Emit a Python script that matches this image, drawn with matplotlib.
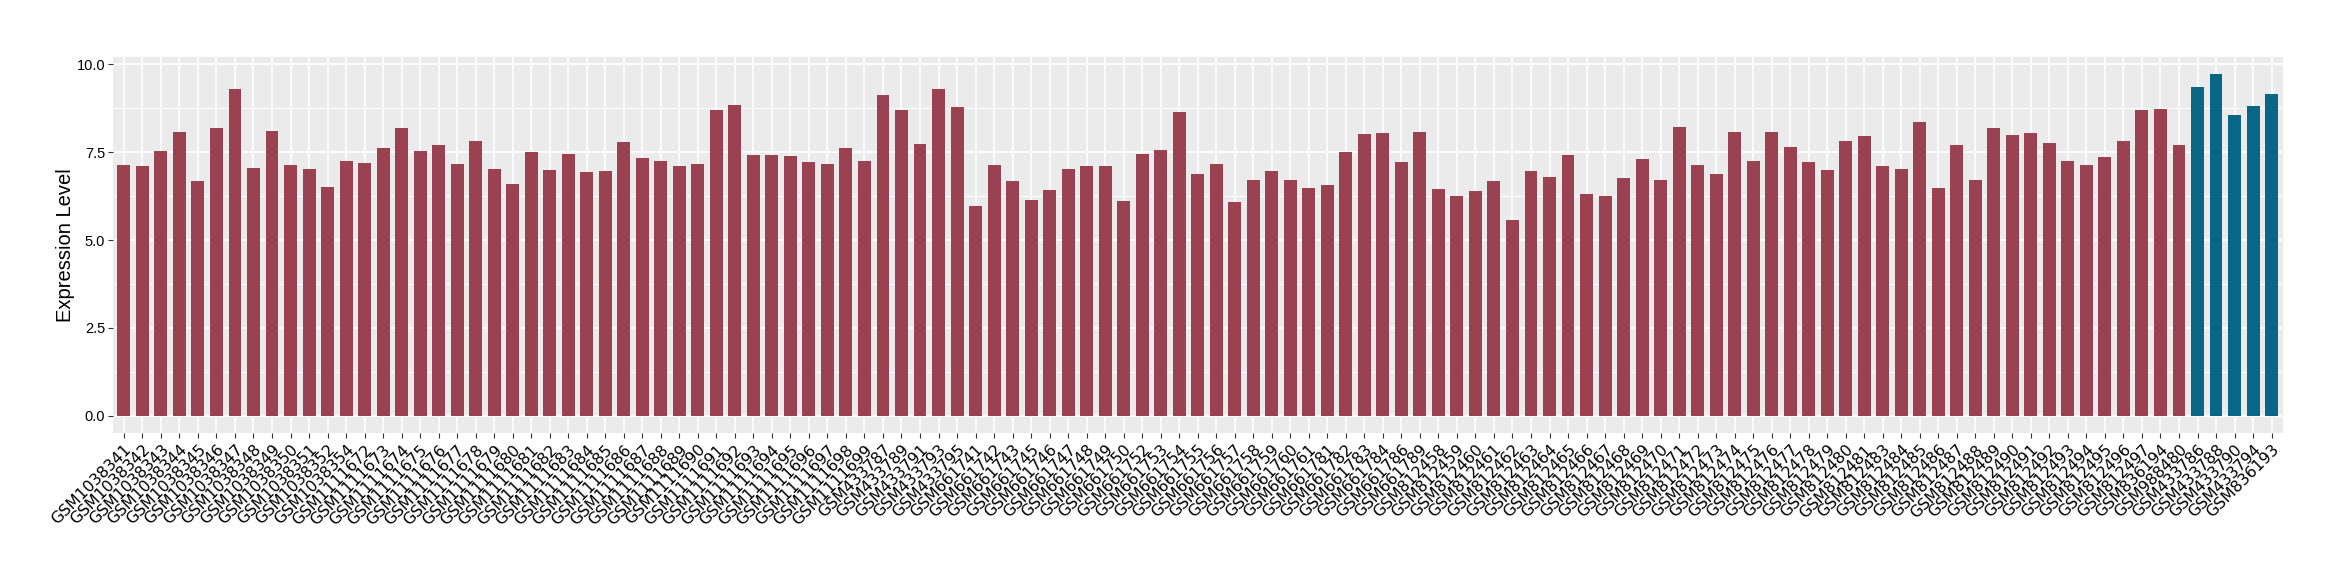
import matplotlib
matplotlib.use("Agg")
import matplotlib.pyplot as plt
from matplotlib.ticker import MultipleLocator

samples = [
    "GSM1038341", "GSM1038342", "GSM1038343", "GSM1038344", "GSM1038345", "GSM1038346",
    "GSM1038347", "GSM1038348", "GSM1038349", "GSM1038350", "GSM1038351", "GSM1038352",
    "GSM1038354",
    "GSM1111672", "GSM1111673", "GSM1111674", "GSM1111675", "GSM1111676", "GSM1111677",
    "GSM1111678", "GSM1111679", "GSM1111680", "GSM1111681", "GSM1111682", "GSM1111683",
    "GSM1111684", "GSM1111685", "GSM1111686", "GSM1111687", "GSM1111688", "GSM1111689",
    "GSM1111690", "GSM1111691", "GSM1111692", "GSM1111693", "GSM1111694", "GSM1111695",
    "GSM1111696", "GSM1111697", "GSM1111698", "GSM1111699",
    "GSM433787", "GSM433789", "GSM433791", "GSM433793", "GSM433795",
    "GSM661741", "GSM661742", "GSM661743", "GSM661745", "GSM661746", "GSM661747",
    "GSM661748", "GSM661749", "GSM661750", "GSM661752", "GSM661753", "GSM661754",
    "GSM661755", "GSM661756", "GSM661757", "GSM661758", "GSM661759", "GSM661760",
    "GSM661761", "GSM661781", "GSM661782", "GSM661783", "GSM661784", "GSM661786",
    "GSM661789",
    "GSM812458", "GSM812459", "GSM812460", "GSM812461", "GSM812462", "GSM812463",
    "GSM812464", "GSM812465", "GSM812466", "GSM812467", "GSM812468", "GSM812469",
    "GSM812470", "GSM812471", "GSM812472", "GSM812473", "GSM812474", "GSM812475",
    "GSM812476", "GSM812477", "GSM812478", "GSM812479", "GSM812480", "GSM812481",
    "GSM812483", "GSM812484", "GSM812485", "GSM812486", "GSM812487", "GSM812488",
    "GSM812489", "GSM812490", "GSM812491", "GSM812492", "GSM812493", "GSM812494",
    "GSM812495", "GSM812496", "GSM812497",
    "GSM836194", "GSM988480",
    "GSM433786", "GSM433788", "GSM433790", "GSM433794", "GSM836193",
]

expression = [
    7.14, 7.11, 7.54, 8.08, 6.69, 8.19, 9.29, 7.06, 8.10, 7.14, 7.03, 6.52, 7.25,
    7.20, 7.62, 8.19, 7.54, 7.71, 7.17, 7.82, 7.03, 6.60, 7.51, 7.00, 7.45, 6.94, 6.97,
    7.79, 7.34, 7.25, 7.11, 7.17, 8.70, 8.84, 7.42, 7.42, 7.40, 7.23, 7.17, 7.62, 7.25,
    9.12, 8.70, 7.74, 9.29, 8.78,
    5.98, 7.14, 6.69, 6.15, 6.43, 7.03, 7.11, 7.11, 6.12, 7.45, 7.57, 8.64, 6.89, 7.17,
    6.09, 6.72, 6.97, 6.72, 6.49, 6.55, 7.51, 8.02, 8.05, 7.23, 8.08,
    6.46, 6.26, 6.38, 6.69, 5.58, 6.97, 6.80, 7.42, 6.32, 6.24, 6.75, 7.31, 6.72, 8.22,
    7.14, 6.89, 8.08, 7.25, 8.08, 7.65, 7.23, 7.00, 7.82, 7.96, 7.11, 7.03, 8.36, 6.49,
    7.71, 6.72, 8.19, 7.99, 8.05, 7.76, 7.25, 7.14, 7.37, 7.82, 8.70,
    8.73, 7.71,
    9.35, 9.72, 8.56, 8.81, 9.15,
]

# last five samples are the highlighted group
group = ["other"] * 112 + ["highlight"] * 5

colors = {"other": "#9A4252", "highlight": "#0A6687"}

fig = plt.figure(figsize=(23.4, 5.8), dpi=100)
ax = fig.add_axes([0.0482, 0.2534, 0.9273, 0.6488])

x = list(range(len(samples)))
ax.bar(x, expression, width=0.7, color=[colors[g] for g in group], zorder=3)

ax.set_facecolor("#EBEBEB")
for s in ax.spines.values():
    s.set_visible(False)

ax.set_xlim(-0.6, len(samples) - 1 + 0.6)
ax.set_ylim(-0.486, 10.21)
ax.yaxis.set_major_locator(MultipleLocator(2.5))
ax.yaxis.set_minor_locator(MultipleLocator(1.25))
ax.yaxis.set_major_formatter(plt.FormatStrFormatter("%.1f"))

ax.grid(which="major", color="white", lw=1.2, zorder=0)
ax.grid(which="minor", axis="y", color="white", lw=0.6, zorder=0)
ax.set_axisbelow(True)

ax.set_xticks(x)
ax.set_xticklabels(samples, rotation=45, ha="right", va="top",
                   rotation_mode="anchor", fontsize=11.3, family="DejaVu Sans")
ax.tick_params(axis="both", which="major", length=3.5, color="#333333", width=0.8)
ax.tick_params(axis="y", which="minor", length=0)
ax.tick_params(axis="y", labelsize=10.5, pad=2)
ax.tick_params(axis="x", pad=3)
for lab in ax.get_yticklabels():
    lab.set_family("Liberation Sans")

ax.set_ylabel("Expression Level", fontsize=14.5, family="Liberation Sans", labelpad=1)

fig.savefig("out.png", dpi=100)
